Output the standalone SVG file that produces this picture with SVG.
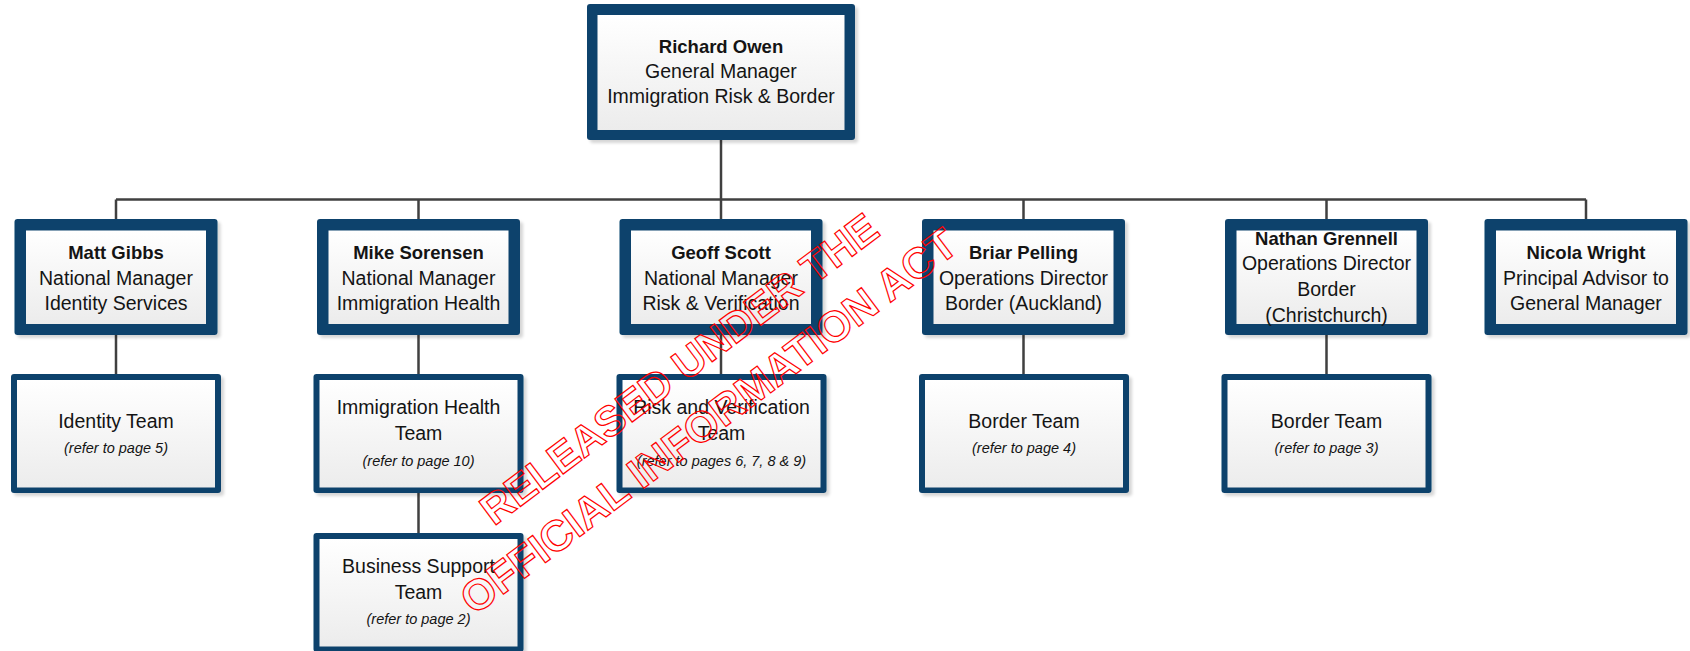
<svg xmlns="http://www.w3.org/2000/svg" width="1690" height="651" viewBox="0 0 1690 651">
<style>
.outer{fill:#0c426c;filter:url(#sh)}
.inner{fill:url(#g)}
text{font-family:"Liberation Sans",Arial,sans-serif;fill:#141414;text-anchor:middle}
.t{font-size:19.5px}
.b{font-size:18.5px;font-weight:bold}
.r{font-size:14.5px;font-style:italic}
.con{stroke:#404040;stroke-width:2.5;fill:none}
.wm{font-family:"Liberation Sans",Arial,sans-serif;font-size:42px;font-weight:bold;fill:none;stroke:#ff0000;stroke-width:1.2;text-anchor:middle}
</style>
<defs>
<linearGradient id="g" x1="0" y1="0" x2="0" y2="1">
<stop offset="0" stop-color="#ffffff"/>
<stop offset="1" stop-color="#ececec"/>
</linearGradient>
<filter id="sh" x="-5%" y="-5%" width="115%" height="115%">
<feDropShadow dx="3" dy="3" stdDeviation="1.5" flood-color="#000" flood-opacity="0.16"/>
</filter>
</defs>
<rect width="1690" height="651" fill="#ffffff"/>
<g id="connectors">
<path class="con" d="M721 140V199.5M116 199.5H1586M116 199.5V219M418.5 199.5V219M721 199.5V219M1023.5 199.5V219M1326.5 199.5V219M1586 199.5V219"/>
<path class="con" d="M116 335V374M418.5 335V374M721 335V374M1023.5 335V374M1326.5 335V374M418.5 493V533"/>
</g>
<g id="richard-owen">
<rect class="outer" x="587" y="4" width="268" height="136" rx="3"/>
<rect class="inner" x="597.5" y="15" width="247" height="115"/>
<text x="721" y="53" class="b">Richard Owen</text>
<text x="721" y="78" class="t">General Manager</text>
<text x="721" y="103" class="t">Immigration Risk &amp; Border</text>
</g>
<g id="matt-gibbs">
<rect class="outer" x="14.5" y="219" width="203" height="116" rx="3"/>
<rect class="inner" x="26" y="230.5" width="180" height="93.5"/>
<text x="116" y="259" class="b">Matt Gibbs</text>
<text x="116" y="285" class="t">National Manager</text>
<text x="116" y="310" class="t">Identity Services</text>
</g>
<g id="mike-sorensen">
<rect class="outer" x="317" y="219" width="203" height="116" rx="3"/>
<rect class="inner" x="328.5" y="230.5" width="180" height="93.5"/>
<text x="418.5" y="259" class="b">Mike Sorensen</text>
<text x="418.5" y="285" class="t">National Manager</text>
<text x="418.5" y="310" class="t">Immigration Health</text>
</g>
<g id="geoff-scott">
<rect class="outer" x="619.5" y="219" width="203" height="116" rx="3"/>
<rect class="inner" x="631" y="230.5" width="180" height="93.5"/>
<text x="721" y="259" class="b">Geoff Scott</text>
<text x="721" y="285" class="t">National Manager</text>
<text x="721" y="310" class="t">Risk &amp; Verification</text>
</g>
<g id="briar-pelling">
<rect class="outer" x="922" y="219" width="203" height="116" rx="3"/>
<rect class="inner" x="933.5" y="230.5" width="180" height="93.5"/>
<text x="1023.5" y="259" class="b">Briar Pelling</text>
<text x="1023.5" y="285" class="t">Operations Director</text>
<text x="1023.5" y="310" class="t">Border (Auckland)</text>
</g>
<g id="nathan-grennell">
<rect class="outer" x="1225" y="219" width="203" height="116" rx="3"/>
<rect class="inner" x="1236.5" y="230.5" width="180" height="93.5"/>
<text x="1326.5" y="245" class="b">Nathan Grennell</text>
<text x="1326.5" y="270" class="t">Operations Director</text>
<text x="1326.5" y="296" class="t">Border</text>
<text x="1326.5" y="322" class="t">(Christchurch)</text>
</g>
<g id="nicola-wright">
<rect class="outer" x="1484.5" y="219" width="203" height="116" rx="3"/>
<rect class="inner" x="1496" y="230.5" width="180" height="93.5"/>
<text x="1586" y="259" class="b">Nicola Wright</text>
<text x="1586" y="285" class="t">Principal Advisor to</text>
<text x="1586" y="310" class="t">General Manager</text>
</g>
<g id="identity-team">
<rect class="outer" x="11" y="374" width="210" height="119" rx="3"/>
<rect class="inner" x="17" y="380" width="198" height="107.5"/>
<text x="116" y="428" class="t">Identity Team</text>
<text x="116" y="453" class="r">(refer to page 5)</text>
</g>
<g id="immigration-health-team">
<rect class="outer" x="313.5" y="374" width="210" height="119" rx="3"/>
<rect class="inner" x="319.5" y="380" width="198" height="107.5"/>
<text x="418.5" y="414" class="t">Immigration Health</text>
<text x="418.5" y="440" class="t">Team</text>
<text x="418.5" y="466" class="r">(refer to page 10)</text>
</g>
<g id="business-support-team">
<rect class="outer" x="313.5" y="533" width="210" height="119" rx="3"/>
<rect class="inner" x="319.5" y="539" width="198" height="107.5"/>
<text x="418.5" y="573" class="t">Business Support</text>
<text x="418.5" y="599" class="t">Team</text>
<text x="418.5" y="624" class="r">(refer to page 2)</text>
</g>
<g id="risk-verification-team">
<rect class="outer" x="616.5" y="374" width="210" height="119" rx="3"/>
<rect class="inner" x="622.5" y="380" width="198" height="107.5"/>
<text x="721.5" y="414" class="t">Risk and Verification</text>
<text x="721.5" y="440" class="t">Team</text>
<text x="721.5" y="466" class="r">(refer to pages 6, 7, 8 &amp; 9)</text>
</g>
<g id="border-team-auckland">
<rect class="outer" x="919" y="374" width="210" height="119" rx="3"/>
<rect class="inner" x="925" y="380" width="198" height="107.5"/>
<text x="1024" y="428" class="t">Border Team</text>
<text x="1024" y="453" class="r">(refer to page 4)</text>
</g>
<g id="border-team-christchurch">
<rect class="outer" x="1221.5" y="374" width="210" height="119" rx="3"/>
<rect class="inner" x="1227.5" y="380" width="198" height="107.5"/>
<text x="1326.5" y="428" class="t">Border Team</text>
<text x="1326.5" y="453" class="r">(refer to page 3)</text>
</g>
<g id="watermark" transform="translate(705.8 404.3) rotate(-37)">
<text class="wm" x="0" y="-30">RELEASED UNDER THE</text>
<text class="wm" x="-8" y="30" style="font-size:43px">OFFICIAL INFORMATION ACT</text>
</g>
</svg>
